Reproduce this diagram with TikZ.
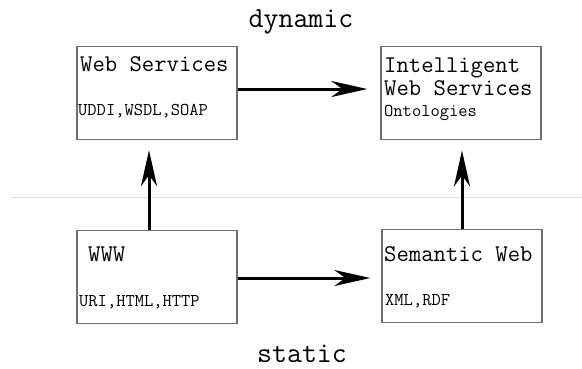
\documentclass[tikz,border=0pt]{standalone}
\usepackage{fontspec}
\usetikzlibrary{arrows.meta}
\definecolor{boxgray}{HTML}{6E6E6E}
\definecolor{sepgray}{HTML}{E0E0E0}
\tikzset{
  box/.style={draw=boxgray, line width=1.3pt, minimum width=160pt, minimum height=93pt, inner sep=0pt},
  title/.style={anchor=base west, inner sep=0pt, font=\ttfamily\fontsize{24}{27}\selectfont},
  sub/.style={anchor=base west, inner sep=0pt, font=\ttfamily\fontsize{18}{20}\selectfont},
  head/.style={anchor=base, inner sep=0pt, font=\ttfamily\fontsize{29}{32}\selectfont},
  arr/.style={line width=3pt, -{Stealth[length=36pt, width=16pt, inset=11pt]}}
}
\begin{document}
\begin{tikzpicture}[x=1pt,y=-1pt]
\useasboundingbox (0,0) rectangle (582,368);
\draw[sepgray, line width=1pt] (10,197) -- (582,197);
\node[box] (ws) at (157,93) {};
\node[box] (iws) at (461,93.3) {};
\node[box] (www) at (157,277.3) {};
\node[box] (sw) at (462,276) {};
\node[title] (wst) at (80,71.7) {Web Services};
\node[sub] (wss) at (78,115) {UDDI,WSDL,SOAP};
\node[title] (iwt1) at (384,72) {Intelligent};
\node[title] (iwt2) at (384,95.7) {Web Services};
\node[sub] (iws2) at (384,116) {Ontologies};
\node[title] (wwwt) at (88,261) {WWW};
\node[sub] (wwws) at (79,306.7) {URI,HTML,HTTP};
\node[title] (swt) at (384,261) {Semantic Web};
\node[sub] (sws) at (385,305) {XML,RDF};
\node[head] (dyn) at (301,27) {dynamic};
\node[head] (sta) at (302,362) {static};
\draw[arr, shorten >=13pt] ([yshift=4pt]ws.east) -- ([yshift=4pt]ws.east -| iws.west);
\draw[arr, shorten >=11pt] ([yshift=-0.7pt]www.east) -- ([yshift=-0.7pt]www.east -| sw.west);
\draw[arr, shorten >=10pt] ([xshift=-8pt]www.north) -- ([xshift=-8pt]www.north |- ws.south);
\draw[arr, shorten >=10pt] (sw.north) -- (sw.north |- iws.south);
\end{tikzpicture}
\end{document}
